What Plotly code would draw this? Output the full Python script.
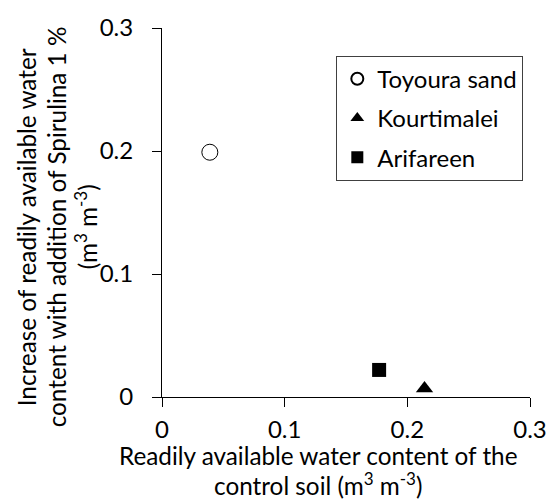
import plotly.graph_objects as go

# Data
soils = ["Toyoura sand", "Kourtimalei", "Arifareen"]
control_raw = [0.039, 0.214, 0.177]          # x: readily available water of control soil
increase_raw = [0.199, 0.007, 0.022]         # y: increase with Spirulina 1 %

x_ticks = [0, 0.1, 0.2, 0.3]
x_ticklabels = ["0", "0.1", "0.2", "0.3"]
y_ticks = [0, 0.1, 0.2, 0.3]
y_ticklabels = ["0", "0.1", "0.2", "0.3"]

x_title_lines = ["Readily available water content of the",
                 "control soil (m<sup>3</sup> m<sup>-3</sup>)"]
y_title_lines = ["Increase of readily available water",
                 "content with addition of Spirulina 1 %",
                 "(m<sup>3</sup> m<sup>-3</sup>)"]

FONT = "Lato"
FS = 24
FS_T = 24.3

marker_styles = [
    dict(symbol="circle", size=16, color="white", line=dict(color="black", width=1)),
    dict(symbol="triangle-up", size=15, color="black", line=dict(color="black", width=0)),
    dict(symbol="square", size=14, color="black", line=dict(color="black", width=0)),
]

# plot-area geometry in pixels
L, R, T, B = 162, 542, 24, 397
W, H = R - L, B - T


def px_x(p):
    return (p - L) / W


def px_y(p):
    return (B - p) / H


fig = go.Figure()
for i, name in enumerate(soils):
    fig.add_trace(go.Scatter(
        x=[control_raw[i]], y=[increase_raw[i]], mode="markers", name=name,
        legendgroup=name, marker=marker_styles[i],
    ))

axis_common = dict(
    showgrid=False, zeroline=False, showline=True, linecolor="black", linewidth=1,
    ticks="outside", ticklen=9, tickcolor="black", tickwidth=1,
    tickfont=dict(family=FONT, size=FS, color="black"),
    range=[0, 0.3], mirror=False,
)
fig.update_xaxes(**axis_common, tickvals=x_ticks, ticktext=x_ticklabels, ticklabelstandoff=2)
fig.update_yaxes(**axis_common, tickvals=y_ticks, ticktext=y_ticklabels, ticklabelstandoff=14)

# x-axis title, two lines
for txt, cy in zip(x_title_lines, [456, 485]):
    fig.add_annotation(
        text=txt, xref="paper", yref="paper", x=px_x(323), y=px_y(cy),
        xanchor="center", yanchor="middle", showarrow=False,
        font=dict(family=FONT, size=FS_T, color="black"),
    )
# y-axis title, three rotated lines
for txt, cx in zip(y_title_lines, [22, 53, 83]):
    fig.add_annotation(
        text=txt, xref="paper", yref="paper", x=px_x(cx), y=px_y(225),
        xanchor="center", yanchor="middle", showarrow=False, textangle=-90,
        font=dict(family=FONT, size=FS_T, color="black"),
    )

fig.update_layout(
    width=559, height=499,
    margin=dict(l=L, r=559 - R, t=T, b=499 - B),
    paper_bgcolor="white", plot_bgcolor="white",
    showlegend=True,
    legend=dict(
        x=px_x(342), y=px_y(52), xanchor="left", yanchor="top",
        bordercolor="#404040", borderwidth=1, bgcolor="white",
        font=dict(family=FONT, size=FS, color="black"),
        itemsizing="constant", tracegroupgap=5,
    ),
    font=dict(family=FONT, size=FS, color="black"),
)

fig.write_html("out.html")
